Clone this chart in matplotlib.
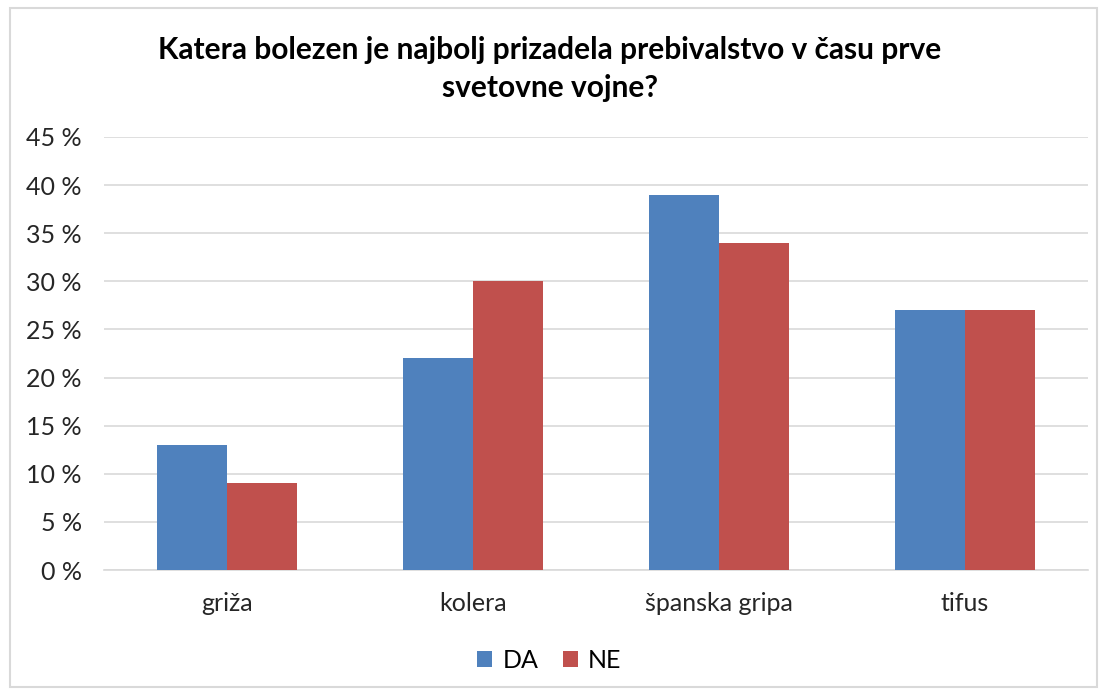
import matplotlib
matplotlib.use("Agg")
import matplotlib.pyplot as plt
import numpy as np
from matplotlib.ticker import FuncFormatter
from matplotlib.patches import Rectangle

categories = ["griža", "kolera", "španska gripa", "tifus"]
da_values = [13, 22, 39, 27]
ne_values = [9, 30, 34, 27]
series_names = ["DA", "NE"]
yticks = [0, 5, 10, 15, 20, 25, 30, 35, 40, 45]

plt.rcParams['font.family'] = ['Lato', 'DejaVu Sans']

W, H = 1099, 689
fig = plt.figure(figsize=(W / 100, H / 100), dpi=100)
fig.patches.append(Rectangle((10 / W, 2 / H), (W - 12) / W, (H - 10) / H, transform=fig.transFigure,
                             fill=False, edgecolor='#D9D9D9', linewidth=1.5))

ax = fig.add_axes([104 / W, 1 - 570 / H, (1088 - 104) / W, (570 - 137) / H])
x = np.arange(len(categories))
bw = 0.2846
ax.bar(x - bw / 2, da_values, bw, color='#4F81BD', label=series_names[0], zorder=3)
ax.bar(x + bw / 2, ne_values, bw, color='#C0504D', label=series_names[1], zorder=3)

ax.set_xlim(-0.5, len(categories) - 0.5)
ax.set_ylim(0, 45)
ax.set_yticks(yticks)
ax.yaxis.set_major_formatter(FuncFormatter(lambda v, p: f"{int(v)} %"))
ax.set_xticks(x)
ax.set_xticklabels(categories)
ax.grid(axis='y', color='#D9D9D9', linewidth=1.2, zorder=0)
for s in ['top', 'right', 'left']:
    ax.spines[s].set_visible(False)
ax.spines['bottom'].set_color('#D9D9D9')
ax.spines['bottom'].set_linewidth(1.2)
ax.tick_params(axis='both', length=0, labelsize=18, colors='#000000', labelcolor='#262626')
ax.tick_params(axis='y', pad=16)
ax.tick_params(axis='x', pad=16)

fig.text(0.5, 1 - 50 / H, "Katera bolezen je najbolj prizadela prebivalstvo v času prve",
         ha='center', va='center', fontsize=21.5, fontweight='bold', color='#000000')
fig.text(0.5, 1 - 88 / H, "svetovne vojne?",
         ha='center', va='center', fontsize=21.5, fontweight='bold', color='#000000')

fig.legend(loc='center', bbox_to_anchor=(0.5, 1 - 660 / H), ncol=2, frameon=False,
           fontsize=18, handlelength=0.6, handleheight=0.6, handletextpad=0.4, columnspacing=1.0)

fig.savefig("out.png", dpi=100)
